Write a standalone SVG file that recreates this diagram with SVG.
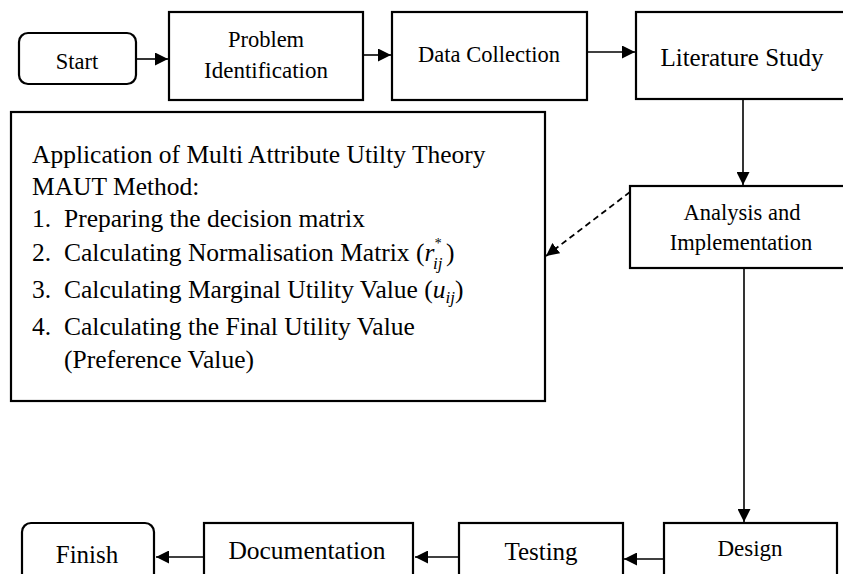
<svg xmlns="http://www.w3.org/2000/svg" width="843" height="574" viewBox="0 0 843 574">
<style>
.box{fill:#fff;stroke:#000;stroke-width:2.2}
.t{font-family:"Liberation Serif","Times New Roman",serif;fill:#000}
.c{stroke:#000;stroke-width:1.6;fill:none}
.d{stroke:#000;stroke-width:1.8;fill:none;stroke-dasharray:6 4}
</style>
<defs>
<marker id="ah" viewBox="0 0 12 12" refX="12" refY="6" markerWidth="13" markerHeight="13" markerUnits="userSpaceOnUse" orient="auto">
<path d="M0,0 L12,6 L0,12 Z" fill="#000"/>
</marker>
</defs>
<rect width="843" height="574" fill="#fff"/>
<g id="connectors">
<line class="c" x1="136" y1="59" x2="168" y2="59" marker-end="url(#ah)"/>
<line class="c" x1="363" y1="55" x2="391" y2="55" marker-end="url(#ah)"/>
<line class="c" x1="587" y1="52" x2="635" y2="52" marker-end="url(#ah)"/>
<line class="c" x1="743" y1="100" x2="743" y2="185" marker-end="url(#ah)"/>
<line class="d" x1="630" y1="192" x2="546" y2="256" marker-end="url(#ah)"/>
<line class="c" x1="744" y1="268" x2="744" y2="522" marker-end="url(#ah)"/>
<line class="c" x1="664" y1="559" x2="624" y2="559" marker-end="url(#ah)"/>
<line class="c" x1="459" y1="557" x2="415" y2="557" marker-end="url(#ah)"/>
<line class="c" x1="204" y1="557" x2="156" y2="557" marker-end="url(#ah)"/>
</g>
<g id="start">
<rect class="box" x="19" y="33" width="117" height="51" rx="9"/>
<text class="t" x="77" y="69" font-size="22.5" text-anchor="middle">Start</text>
</g>
<g id="problem">
<rect class="box" x="169" y="12" width="194" height="88"/>
<text class="t" x="266" y="47" font-size="22.5" text-anchor="middle">Problem</text>
<text class="t" x="266" y="78" font-size="23" text-anchor="middle">Identification</text>
</g>
<g id="data">
<rect class="box" x="392" y="12" width="195" height="88"/>
<text class="t" x="489" y="62" font-size="22.5" text-anchor="middle">Data Collection</text>
</g>
<g id="literature">
<rect class="box" x="636" y="12" width="212" height="87"/>
<text class="t" x="742" y="66" font-size="25" text-anchor="middle">Literature Study</text>
</g>
<g id="analysis">
<rect class="box" x="630" y="186" width="218" height="82"/>
<text class="t" x="742" y="220" font-size="22.5" text-anchor="middle">Analysis and</text>
<text class="t" x="741" y="250" font-size="22.5" text-anchor="middle">Implementation</text>
</g>
<g id="maut">
<rect class="box" x="11" y="112" width="534" height="289"/>
<text class="t" font-size="25.5">
<tspan x="32" y="163">Application of Multi Attribute Utilty Theory</tspan>
<tspan x="32" y="195">MAUT Method:</tspan>
<tspan x="32" y="227">1.</tspan>
<tspan x="32" y="261">2.</tspan>
<tspan x="32" y="298">3.</tspan>
<tspan x="32" y="335">4.</tspan>
</text>
<text class="t" font-size="25.5">
<tspan x="64" y="227">Preparing the decision matrix</tspan>
<tspan x="64" y="261">Calculating Normalisation Matrix (<tspan font-style="italic">r</tspan></tspan>
<tspan x="64" y="298">Calculating Marginal Utility Value (<tspan font-style="italic">u</tspan><tspan font-style="italic" font-size="17" dy="5">ij</tspan><tspan dy="-5">)</tspan></tspan>
<tspan x="64" y="335">Calculating the Final Utility Value</tspan>
<tspan x="64" y="368">(Preference Value)</tspan>
</text>
<text class="t" x="434" y="248" font-size="14" font-style="italic">*</text>
<text class="t" x="433" y="269" font-size="17" font-style="italic">ij</text>
<text class="t" x="446" y="261" font-size="25.5">)</text>
</g>
<g id="design">
<rect class="box" x="664" y="523" width="173" height="60"/>
<text class="t" x="750" y="556" font-size="23" text-anchor="middle">Design</text>
</g>
<g id="testing">
<rect class="box" x="459" y="523" width="164" height="60"/>
<text class="t" x="541" y="560" font-size="25" text-anchor="middle">Testing</text>
</g>
<g id="documentation">
<rect class="box" x="204" y="523" width="209" height="60"/>
<text class="t" x="307" y="559" font-size="25.5" text-anchor="middle">Documentation</text>
</g>
<g id="finish">
<rect class="box" x="22" y="523" width="132" height="60" rx="9"/>
<text class="t" x="87" y="563" font-size="25" text-anchor="middle">Finish</text>
</g>
</svg>
